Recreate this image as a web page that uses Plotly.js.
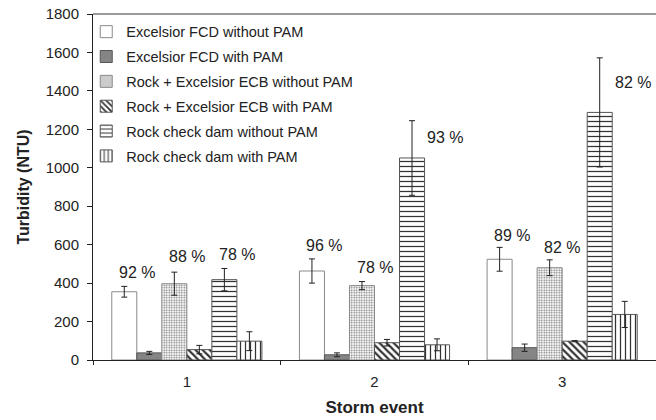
<!DOCTYPE html>
<html>
<head>
<meta charset="utf-8">
<script src="https://cdn.plot.ly/plotly-3.0.1.min.js"></script>
<style>
  html, body { margin: 0; padding: 0; background: #fff; }
  #chart { width: 656px; height: 420px; }
</style>
</head>
<body>
<div id="chart"></div>
<script>
// ---- data ----
const categories = ['1', '2', '3'];

const seriesNames = [
  'Excelsior FCD without PAM',
  'Excelsior FCD with PAM',
  'Rock + Excelsior ECB without PAM',
  'Rock + Excelsior ECB with PAM',
  'Rock check dam without PAM',
  'Rock check dam with PAM'
];

const fcdWithout     = [355, 463, 524];
const fcdWithoutErr  = [28, 63, 62];
const fcdWith        = [37, 27, 64];
const fcdWithErr     = [8, 10, 19];
const ecbWithout     = [397, 387, 480];
const ecbWithoutErr  = [60, 21, 41];
const ecbWith        = [54, 90, 98];
const ecbWithErr     = [22, 17, 3];
const rcdWithout     = [418, 1051, 1288];
const rcdWithoutErr  = [58, 194, 284];
const rcdWith        = [98, 79, 237];
const rcdWithErr     = [49, 31, 68];

// percentage labels (reduction), attached to a series in a storm event
const labelText   = ['92 %', '88 %', '78 %', '96 %', '78 %', '93 %', '89 %', '82 %', '82 %'];
const labelEvent  = [0, 0, 0, 1, 1, 1, 2, 2, 2];
const labelSeries = [0, 2, 4, 0, 2, 4, 0, 2, 4];
const labelY      = [455, 539, 551, 595, 482, 1160, 647, 583, 1443];

const yTicks = [0, 200, 400, 600, 800, 1000, 1200, 1400, 1600, 1800];

// ---- styles ----
const values = [fcdWithout, fcdWith, ecbWithout, ecbWith, rcdWithout, rcdWith];
const errors = [fcdWithoutErr, fcdWithErr, ecbWithoutErr, ecbWithErr, rcdWithoutErr, rcdWithErr];
const styles = [
  {color: '#ffffff', line: '#8a8a8a', pattern: {shape: ''}},
  {color: '#858585', line: '#555555', pattern: {shape: ''}},
  {color: '#ffffff', line: '#8a8a8a', pattern: {shape: '.', fgcolor: '#707070', bgcolor: '#ffffff', size: 2.5, solidity: 0.35}},
  {color: '#ffffff', line: '#555555', pattern: {shape: '\\', fgcolor: '#333333', bgcolor: '#ffffff', size: 5, solidity: 0.45}},
  {color: '#ffffff', line: '#555555', pattern: {shape: '-', fgcolor: '#333333', bgcolor: '#ffffff', size: 5, solidity: 0.25}},
  {color: '#ffffff', line: '#555555', pattern: {shape: '|', fgcolor: '#333333', bgcolor: '#ffffff', size: 5, solidity: 0.25}}
];

const traces = seriesNames.map((name, i) => ({
  type: 'bar',
  name: name,
  x: categories,
  y: values[i],
  legendgroup: 'g' + i,
  marker: {
    color: styles[i].color,
    line: {color: styles[i].line, width: 1},
    pattern: styles[i].pattern
  },
  error_y: {type: 'data', array: errors[i], visible: true, color: '#222', thickness: 1, width: 3},
  hoverinfo: 'skip'
}));

const groupWidth = 0.8;
const barW = groupWidth / seriesNames.length;
const annotations = labelText.map((t, k) => {
  const s = labelSeries[k];
  let x = labelEvent[k] - groupWidth / 2 + (s + 1) * barW;
  if (values[s][labelEvent[k]] > 1000) x += 0.11; // tall bars: label moved beside the error bar
  return {
    x: x, y: labelY[k], xref: 'x', yref: 'y',
    text: t, showarrow: false, xanchor: 'center', yanchor: 'middle',
    font: {family: 'Arial, "Liberation Sans", sans-serif', size: 16, color: '#222'}
  };
});

const layout = {
  width: 656, height: 420,
  margin: {l: 93, r: 0, t: 14, b: 60, pad: 0},
  paper_bgcolor: '#fff', plot_bgcolor: '#fff',
  font: {family: 'Arial, "Liberation Sans", sans-serif', size: 15, color: '#222'},
  barmode: 'group',
  bargap: 0.2, bargroupgap: 0,
  showlegend: true,
  legend: {
    x: -0.012, xanchor: 'left', y: 0.995, yanchor: 'top',
    bgcolor: 'rgba(0,0,0,0)', borderwidth: 0,
    font: {size: 14.5, color: '#222'},
    tracegroupgap: 3, traceorder: 'grouped'
  },
  xaxis: {
    type: 'category',
    showgrid: false, zeroline: false,
    showline: true, linecolor: '#222', linewidth: 1,
    ticks: 'outside', tickson: 'boundaries', ticklen: 4, tickcolor: '#222',
    ticklabelstandoff: 8,
    tickfont: {size: 15, color: '#222'},
    title: {text: '<b>Storm event</b>', font: {size: 17, color: '#222'}, standoff: 12},
    automargin: false
  },
  yaxis: {
    range: [0, 1800],
    tickvals: yTicks,
    showgrid: false, zeroline: false,
    showline: true, linecolor: '#222', linewidth: 1,
    ticks: 'outside', ticklen: 5, tickcolor: '#222',
    ticklabelstandoff: 5,
    tickfont: {size: 15, color: '#222'},
    title: {text: '<b>Turbidity (NTU)</b>', font: {size: 16, color: '#222'}, standoff: 12},
    automargin: false
  },
  shapes: [
    {type: 'line', xref: 'paper', yref: 'paper', x0: 0, x1: 1, y0: 1, y1: 1,
     line: {color: '#9a9a9a', width: 2}}
  ],
  annotations: annotations
};

Plotly.newPlot('chart', traces, layout, {displayModeBar: false, staticPlot: true});
</script>
</body>
</html>
